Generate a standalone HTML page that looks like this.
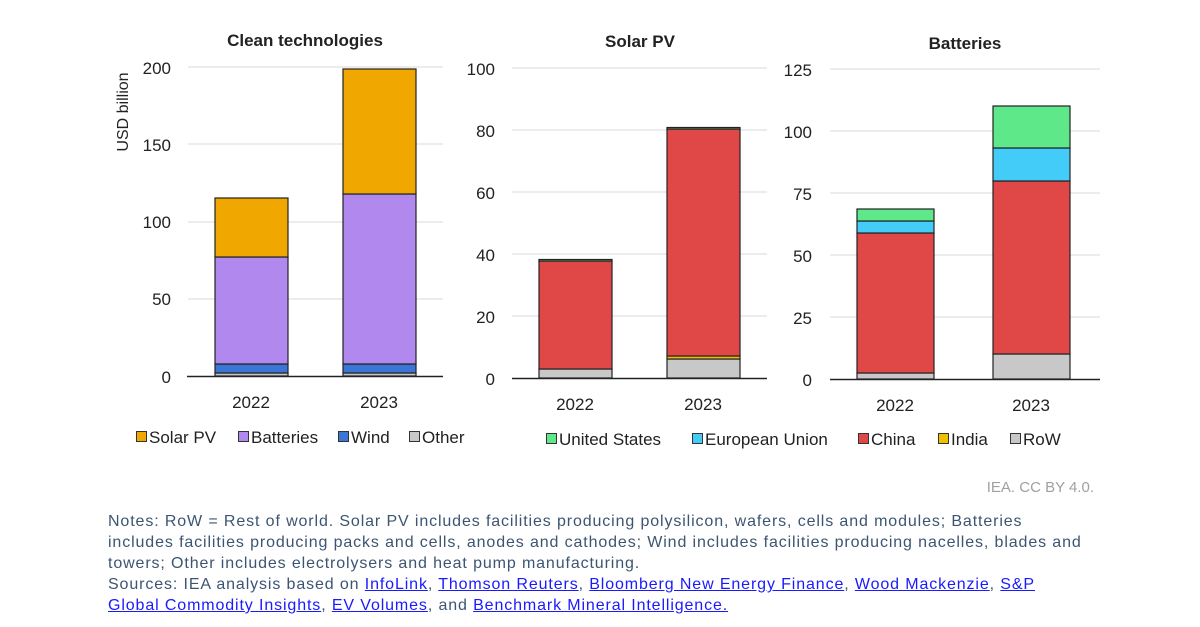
<!DOCTYPE html>
<html><head><meta charset="utf-8"><style>
body{margin:0;background:#fff;width:1200px;height:627px;overflow:hidden;font-family:"Liberation Sans",sans-serif}
.notes{position:absolute;left:108px;top:511px;font-size:16px;letter-spacing:0.88px;line-height:21px;color:#3c5572;width:1090px;white-space:nowrap}
.notes a{color:#1a1aff;text-decoration:underline}
</style></head><body>
<svg width="1200" height="627" style="position:absolute;left:0;top:0" font-family="Liberation Sans, sans-serif">
<g stroke="#d9d9d9" stroke-width="1">
<line x1="188" x2="443" y1="67" y2="67"/><line x1="188" x2="443" y1="144" y2="144"/><line x1="188" x2="443" y1="222" y2="222"/><line x1="188" x2="443" y1="299" y2="299"/>
<line x1="512" x2="767" y1="68" y2="68"/><line x1="512" x2="767" y1="130" y2="130"/><line x1="512" x2="767" y1="192" y2="192"/><line x1="512" x2="767" y1="254" y2="254"/><line x1="512" x2="767" y1="316" y2="316"/>
<line x1="830" x2="1100" y1="69" y2="69"/><line x1="830" x2="1100" y1="131" y2="131"/><line x1="830" x2="1100" y1="193" y2="193"/><line x1="830" x2="1100" y1="255" y2="255"/><line x1="830" x2="1100" y1="317" y2="317"/>
</g>
<g stroke="#222" stroke-width="1.2">
<rect x="215" y="373" width="73" height="3" fill="#c8c8c8"/>
<rect x="215" y="364" width="73" height="9" fill="#3a76d6"/>
<rect x="215" y="257" width="73" height="107" fill="#b088ee"/>
<rect x="215" y="198" width="73" height="59" fill="#f0a800"/>
<rect x="343" y="373" width="73" height="3" fill="#c8c8c8"/>
<rect x="343" y="364" width="73" height="9" fill="#3a76d6"/>
<rect x="343" y="194" width="73" height="170" fill="#b088ee"/>
<rect x="343" y="69" width="73" height="125" fill="#f0a800"/>
<rect x="539" y="369" width="73" height="9" fill="#c8c8c8"/>
<rect x="539" y="261" width="73" height="108" fill="#e04848"/>
<rect x="539" y="259.5" width="73" height="1.5" fill="#5ee88a"/>
<rect x="667" y="359" width="73" height="19" fill="#c8c8c8"/>
<rect x="667" y="356" width="73" height="3" fill="#f0c000"/>
<rect x="667" y="129" width="73" height="227" fill="#e04848"/>
<rect x="667" y="127.5" width="73" height="1.5" fill="#5ee88a"/>
<rect x="857" y="373" width="77" height="6" fill="#c8c8c8"/>
<rect x="857" y="233" width="77" height="140" fill="#e04848"/>
<rect x="857" y="221" width="77" height="12" fill="#44ccf8"/>
<rect x="857" y="209" width="77" height="12" fill="#5ee88a"/>
<rect x="993" y="354" width="77" height="25" fill="#c8c8c8"/>
<rect x="993" y="181" width="77" height="173" fill="#e04848"/>
<rect x="993" y="148" width="77" height="33" fill="#44ccf8"/>
<rect x="993" y="106" width="77" height="42" fill="#5ee88a"/>
</g>
<g stroke="#222" stroke-width="1.5">
<line x1="187" x2="443" y1="376.5" y2="376.5"/><line x1="512" x2="767" y1="378.5" y2="378.5"/><line x1="830" x2="1100" y1="379.5" y2="379.5"/>
</g>
<g font-size="17" fill="#222">
<text x="305" y="46" font-weight="bold" text-anchor="middle">Clean technologies</text>
<text x="640" y="47" font-weight="bold" text-anchor="middle">Solar PV</text>
<text x="965" y="49" font-weight="bold" text-anchor="middle">Batteries</text>
<text transform="translate(128,112) rotate(-90)" text-anchor="middle" font-size="16">USD billion</text>
<g text-anchor="end">
<text x="171" y="74">200</text><text x="171" y="151">150</text><text x="171" y="228">100</text><text x="171" y="305">50</text><text x="171" y="383">0</text>
<text x="495" y="75">100</text><text x="495" y="137">80</text><text x="495" y="199">60</text><text x="495" y="261">40</text><text x="495" y="323">20</text><text x="495" y="385">0</text>
<text x="812" y="76">125</text><text x="812" y="138">100</text><text x="812" y="200">75</text><text x="812" y="262">50</text><text x="812" y="324">25</text><text x="812" y="386">0</text>
</g>
<g text-anchor="middle">
<text x="251" y="408">2022</text><text x="379" y="408">2023</text>
<text x="575" y="410">2022</text><text x="703" y="410">2023</text>
<text x="895" y="411">2022</text><text x="1031" y="411">2023</text>
</g>
</g>
<g stroke="#333" stroke-width="1">
<rect x="136.5" y="431.5" width="10" height="10" fill="#f0a800"/>
<rect x="238.5" y="431.5" width="10" height="10" fill="#b088ee"/>
<rect x="338.5" y="431.5" width="10" height="10" fill="#3a76d6"/>
<rect x="409.5" y="431.5" width="10" height="10" fill="#c8c8c8"/>
<rect x="546.5" y="433.5" width="10" height="10" fill="#5ee88a"/>
<rect x="692.5" y="433.5" width="10" height="10" fill="#44ccf8"/>
<rect x="858.5" y="433.5" width="10" height="10" fill="#e04848"/>
<rect x="938.5" y="433.5" width="10" height="10" fill="#f0c000"/>
<rect x="1010.5" y="433.5" width="10" height="10" fill="#c8c8c8"/>
</g>
<g font-size="17" fill="#222">
<text x="149" y="443">Solar PV</text><text x="251" y="443">Batteries</text><text x="351" y="443">Wind</text><text x="422" y="443">Other</text>
<text x="559" y="445">United States</text><text x="705" y="445">European Union</text><text x="871" y="445">China</text><text x="951" y="445">India</text><text x="1023" y="445">RoW</text>
</g>
<text x="1094" y="492" font-size="15" fill="#a0a0a0" text-anchor="end">IEA. CC BY 4.0.</text>
</svg>
<div class="notes">Notes: RoW = Rest of world. Solar PV includes facilities producing polysilicon, wafers, cells and modules; Batteries<br>includes facilities producing packs and cells, anodes and cathodes; Wind includes facilities producing nacelles, blades and<br>towers; Other includes electrolysers and heat pump manufacturing.<br>Sources: IEA analysis based on <a>InfoLink</a>, <a>Thomson Reuters</a>, <a>Bloomberg New Energy Finance</a>, <a>Wood Mackenzie</a>, <a>S&amp;P</a><br><a>Global Commodity Insights</a>, <a>EV Volumes</a>, and <a>Benchmark Mineral Intelligence.</a></div>
</body></html>
